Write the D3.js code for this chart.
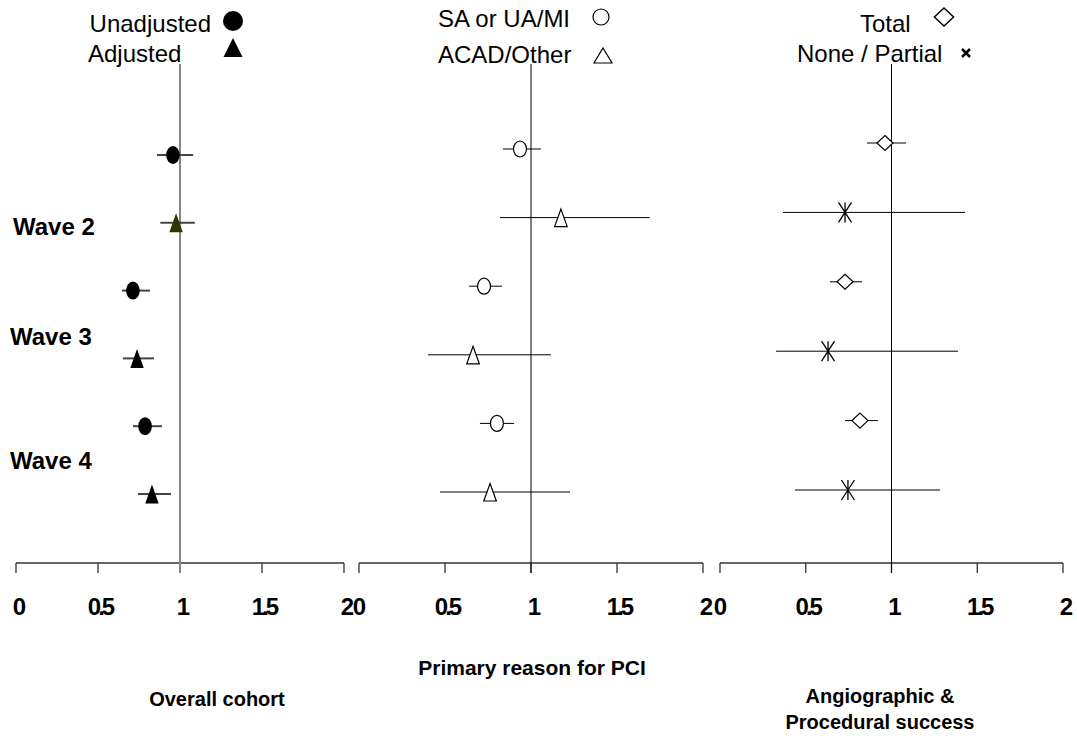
<!DOCTYPE html>
<meta charset='utf-8'>
<title>Forest plot</title>
<style>
  body { margin: 0; background: #fff; font-family: Arial, 'Liberation Sans', sans-serif; }
  svg { display: block; }
  .tick-lbl { font-weight: bold; font-size: 24px; letter-spacing: -3px; }
  .title { font-weight: bold; font-size: 20px; }
  .wave { font-weight: bold; font-size: 24px; }
  .leg { font-size: 24px; }
</style>
<body>
<script src='https://cdn.jsdelivr.net/npm/d3@7'></script>
<script>

  var width = 1077, height = 738

  var ticks = [0, 0.5, 1, 1.5, 2]
  var tickLabels = ['0', '0.5', '1', '1.5', '2']
  var waves = ['Wave 2', 'Wave 3', 'Wave 4']

  // panel 1: unadjusted / adjusted, alternating rows
  var cohortEst = [0.957, 0.976, 0.713, 0.738, 0.787, 0.829]
  var cohortLo  = [0.86, 0.88, 0.646, 0.652, 0.713, 0.744]
  var cohortHi  = [1.08, 1.09, 0.817, 0.841, 0.89, 0.945]

  // panel 2: SA or UA/MI / ACAD/Other
  var reasonEst = [0.936, 1.174, 0.727, 0.663, 0.802, 0.762]
  var reasonLo  = [0.837, 0.82, 0.64, 0.401, 0.703, 0.471]
  var reasonHi  = [1.058, 1.69, 0.831, 1.116, 0.901, 1.227]

  // panel 3: Total / None-Partial
  var successEst = [0.962, 0.729, 0.729, 0.63, 0.816, 0.746]
  var successLo  = [0.857, 0.367, 0.641, 0.327, 0.729, 0.437]
  var successHi  = [1.085, 1.429, 0.828, 1.388, 0.921, 1.283]

  var svg = d3.select('body').append('svg')
    .attr('width', width).attr('height', height)

  var panels = [
    { x0: 16, x1: 344, y0: 155, y1: 494, est: cohortEst, lo: cohortLo, hi: cohortHi,
      marks: ['dot', 'tri'], barColor: '#444', barWidth: 2, refColor: '#858585', refWidth: 2,
      title: ['Overall cohort'], titleX: 217, titleY: 706, titleSize: 20 },
    { x0: 359, x1: 703, y0: 149, y1: 492, est: reasonEst, lo: reasonLo, hi: reasonHi,
      marks: ['ocirc', 'otri'], barColor: '#000', barWidth: 1, refColor: '#000', refWidth: 1,
      title: ['Primary reason for PCI'], titleX: 532, titleY: 675, titleSize: 21 },
    { x0: 720, x1: 1063, y0: 143, y1: 490, est: successEst, lo: successLo, hi: successHi,
      marks: ['diam', 'star'], barColor: '#000', barWidth: 1, refColor: '#000', refWidth: 1,
      title: ['Angiographic &', 'Procedural success'], titleX: 880, titleY: 703, titleSize: 20 }
  ]

  var axisY = 563

  function drawMark(g, type, x, y, s) {
    s = s || 1
    var t = 'translate(' + x + ',' + y + ') scale(' + s + ')'
    if (type === 'dot') {
      g.append('ellipse').attr('cx', x).attr('cy', y).attr('rx', 6.8 * s).attr('ry', 9 * s).attr('fill', '#000')
    } else if (type === 'tri') {
      g.append('path').attr('d', 'M0,-9.5L6.7,9.5L-6.7,9.5Z').attr('transform', t).attr('fill', '#000')
    } else if (type === 'ocirc') {
      g.append('ellipse').attr('cx', x).attr('cy', y).attr('rx', 6.5 * s).attr('ry', 8 * s)
        .attr('fill', '#fff').attr('stroke', '#000').attr('stroke-width', 1.2)
    } else if (type === 'otri') {
      g.append('path').attr('d', 'M0,-8.5L6.3,9L-6.3,9Z').attr('transform', t)
        .attr('fill', '#fff').attr('stroke', '#000').attr('stroke-width', 1.2)
    } else if (type === 'diam') {
      g.append('path').attr('d', 'M0,-7.5L8,0L0,7.5L-8,0Z').attr('transform', t)
        .attr('fill', '#fff').attr('stroke', '#000').attr('stroke-width', 1.2)
    } else if (type === 'star') {
      g.append('path').attr('d', 'M-6.5,-10L6.5,10M6.5,-10L-6.5,10M0,-10L0,10').attr('transform', t)
        .attr('stroke', '#000').attr('stroke-width', 1.3).attr('fill', 'none')
    } else if (type === 'cross') {
      g.append('path').attr('d', 'M-4,-4L4,4M4,-4L-4,4').attr('transform', t)
        .attr('stroke', '#000').attr('stroke-width', 2.5).attr('fill', 'none')
    }
  }

  panels.forEach(function(p, pi) {
    var g = svg.append('g')
    var x = d3.scaleLinear().domain([0, 2]).range([p.x0, p.x1])
    var y = d3.scaleLinear().domain([0, 5]).range([p.y0, p.y1])

    // axis
    g.append('line').attr('x1', x(0)).attr('x2', x(2)).attr('y1', axisY).attr('y2', axisY)
      .attr('stroke', '#333').attr('stroke-width', 1.3)
    g.selectAll('.tk').data(ticks).enter().append('line')
      .attr('x1', x).attr('x2', x).attr('y1', axisY).attr('y2', axisY + 10)
      .attr('stroke', '#333').attr('stroke-width', 1.3)
    g.selectAll('.tick-lbl').data(ticks).enter().append('text')
      .attr('class', 'tick-lbl')
      .attr('x', function(d) { return x(d) + (d === 0 && pi > 0 ? -1 : 2) })
      .attr('y', 615)
      .attr('text-anchor', 'middle')
      .text(function(d, i) { return tickLabels[i] })

    // reference line at 1
    g.append('line').attr('x1', x(1)).attr('x2', x(1))
      .attr('y1', 64).attr('y2', axisY + 10)
      .attr('stroke', p.refColor).attr('stroke-width', p.refWidth)

    // error bars
    p.est.forEach(function(v, i) {
      g.append('line').attr('x1', x(p.lo[i])).attr('x2', x(p.hi[i]))
        .attr('y1', y(i)).attr('y2', y(i))
        .attr('stroke', p.barColor).attr('stroke-width', p.barWidth)
    })
    p.est.forEach(function(v, i) {
      drawMark(g, p.marks[i % 2], x(v), y(i))
    })
    if (pi === 0) g.select('path').attr('fill', '#333300')

    // titles
    p.title.forEach(function(t, i) {
      g.append('text').attr('class', 'title')
        .style('font-size', p.titleSize + 'px')
        .attr('x', p.titleX).attr('y', p.titleY + i * 26)
        .attr('text-anchor', 'middle').text(t)
    })
  })

  // wave labels
  var waveY = [235, 345, 469]
  var waveX = [13, 10, 10]
  waves.forEach(function(w, i) {
    svg.append('text').attr('class', 'wave').attr('x', waveX[i]).attr('y', waveY[i]).text(w)
  })

  // legends
  var lg = svg.append('g')
  lg.append('text').attr('class', 'leg').attr('x', 211).attr('y', 32).attr('text-anchor', 'end').text('Unadjusted')
  lg.append('text').attr('class', 'leg').attr('x', 88).attr('y', 62).text('Adjusted')
  lg.append('circle').attr('cx', 233).attr('cy', 21).attr('r', 10).attr('fill', '#000')
  lg.append('path').attr('d', 'M233,38L242.5,57L223.5,57Z').attr('fill', '#000')

  lg.append('text').attr('class', 'leg').attr('x', 438).attr('y', 27).text('SA or UA/MI')
  lg.append('text').attr('class', 'leg').attr('x', 438).attr('y', 63).text('ACAD/Other')
  lg.append('circle').attr('cx', 601).attr('cy', 17).attr('r', 8)
    .attr('fill', '#fff').attr('stroke', '#000').attr('stroke-width', 1.2)
  lg.append('path').attr('d', 'M603,48L612,63L594,63Z')
    .attr('fill', '#fff').attr('stroke', '#000').attr('stroke-width', 1.2)

  lg.append('text').attr('class', 'leg').attr('x', 860).attr('y', 32).text('Total')
  lg.append('text').attr('class', 'leg').attr('x', 797).attr('y', 62).text('None / Partial')
  drawMark(lg, 'diam', 944, 17, 1.2)
  drawMark(lg, 'cross', 966, 53)

</script>
</body>
